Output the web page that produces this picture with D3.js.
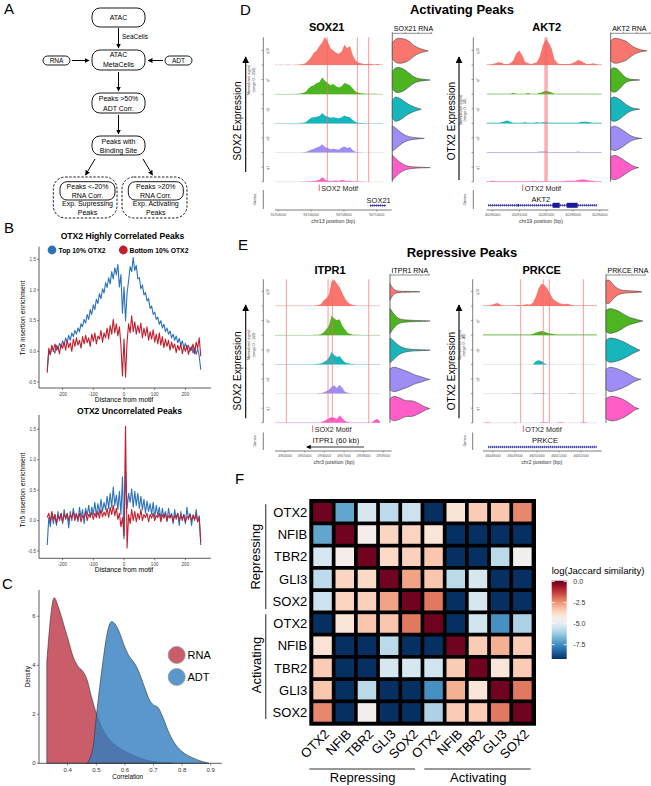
<!DOCTYPE html>
<html><head><meta charset="utf-8">
<script src="https://cdn.jsdelivr.net/npm/d3@7/dist/d3.min.js"></script>
<style>html,body{margin:0;padding:0;background:#fff}svg{display:block}</style>
</head><body>
<svg id="fig" width="651" height="786" font-family="'Liberation Sans', Arial, Helvetica, sans-serif"></svg>
<script>
// ---------------- DATA ----------------
// Panel B: Tn5 insertion profiles (distance from motif, step 5 bp)
const distance = d3.range(-250, 251, 5);
const hcTop = [-0.30,0.00,-0.06,0.08,0.02,-0.03,0.10,0.03,0.13,0.06,
 0.17,0.10,0.22,0.15,0.26,0.18,0.30,0.24,0.34,0.28,
 0.38,0.32,0.45,0.40,0.52,0.46,0.60,0.52,0.68,0.60,
 0.76,0.68,0.85,0.78,0.94,0.86,1.02,0.95,1.12,1.04,
 1.20,1.10,1.30,1.18,1.36,1.25,1.42,1.05,1.25,0.62,
 1.05,
 0.50,0.95,1.15,1.38,1.30,1.53,1.32,1.40,1.18,1.20,
 1.02,1.08,0.92,0.96,0.82,0.86,0.70,0.74,0.60,0.64,
 0.52,0.56,0.44,0.50,0.38,0.44,0.32,0.38,0.28,0.33,
 0.22,0.28,0.18,0.25,0.14,0.21,0.10,0.17,0.06,0.13,
 0.03,0.10,0.00,0.08,-0.03,0.06,-0.05,0.04,-0.08,-0.30];
const hcBottom = [-0.35,0.05,-0.05,0.10,0.00,0.12,0.02,0.08,-0.04,0.12,
 0.05,0.15,0.02,0.18,0.06,0.14,0.00,0.20,0.08,0.22,
 0.10,0.18,0.05,0.24,0.12,0.26,0.14,0.22,0.08,0.28,
 0.16,0.30,0.12,0.25,0.20,0.34,0.15,0.30,0.22,0.38,
 0.20,0.42,0.28,0.52,0.30,0.45,0.25,0.40,0.10,-0.40,
 0.20,
 -0.42,0.15,0.45,0.30,0.58,0.32,0.48,0.28,0.42,0.30,
 0.46,0.22,0.38,0.25,0.40,0.18,0.32,0.20,0.35,0.15,
 0.28,0.12,0.30,0.10,0.24,0.06,0.20,0.08,0.18,0.02,
 0.15,0.05,0.12,-0.02,0.10,0.02,0.12,-0.04,0.08,0.00,
 0.10,-0.05,0.06,0.02,0.12,-0.04,0.15,0.05,0.22,-0.08];
const ucTop = [-0.40,0.05,-0.10,0.12,-0.05,0.10,-0.08,0.15,0.00,0.12,
 -0.05,0.18,0.02,0.10,-0.12,0.15,0.00,0.20,0.05,0.12,
 -0.02,0.22,0.05,0.18,-0.05,0.20,0.08,0.25,0.05,0.22,
 0.10,0.30,0.08,0.28,0.12,0.35,0.15,0.30,0.18,0.40,
 0.20,0.45,0.22,0.55,0.25,0.42,0.18,0.48,0.10,0.72,
 -0.30,
 0.82,0.20,0.45,0.30,0.52,0.22,0.48,0.25,0.45,0.20,
 0.40,0.18,0.35,0.12,0.32,0.15,0.28,0.10,0.30,0.05,
 0.25,0.08,0.22,0.02,0.20,0.05,0.15,-0.02,0.20,0.05,
 0.12,-0.05,0.18,0.02,0.12,-0.08,0.15,0.00,0.10,-0.05,
 0.22,0.02,0.12,-0.08,0.10,0.00,0.18,-0.02,0.08,-0.40];
const ucBottom = [0.05,0.12,-0.02,0.15,0.02,0.10,-0.05,0.08,0.02,0.12,
 -0.02,0.10,0.04,0.12,0.00,0.08,0.05,0.14,0.00,0.10,
 0.02,0.12,-0.02,0.08,0.05,0.15,0.00,0.10,0.06,0.14,
 0.02,0.12,0.05,0.15,0.04,0.18,0.06,0.14,0.08,0.20,
 0.05,0.22,0.10,0.25,0.08,0.20,0.02,0.12,-0.10,0.05,
 -0.25,
 1.55,-0.45,0.10,-0.05,0.18,0.00,0.15,-0.02,0.12,0.02,
 0.18,0.00,0.10,0.05,0.12,-0.02,0.10,0.04,0.12,0.00,
 0.08,0.05,0.12,-0.02,0.10,0.04,0.12,0.00,0.08,0.04,
 0.10,-0.02,0.08,0.05,0.12,0.00,0.08,0.02,0.10,-0.02,
 0.06,0.04,0.10,0.00,0.08,0.02,0.10,-0.02,0.05,-0.35];
const profileXTicks = [-200,-100,0,100,200];
const profileYTicks = [-0.5,0,0.5,1,1.5];

// Panel C: densities of correlations
const rnaCorr = [0.327,0.353,0.367,0.385,0.402,0.419,0.437,0.454,0.468,0.483,0.500,0.524,0.547,0.582,0.628,0.674,0.720,0.767];
const rnaDens = [4.15,6.76,6.39,5.71,5.03,4.35,3.94,3.74,3.40,2.72,2.04,1.36,0.95,0.61,0.34,0.13,0.04,0];
const adtCorr = [0.468,0.480,0.489,0.500,0.512,0.524,0.538,0.553,0.564,0.582,0.599,0.616,0.634,0.651,0.668,0.686,0.700,0.715,0.732,0.755,0.778,0.801,0.836,0.871,0.894];
const adtDens = [0,0.27,0.68,1.90,3.13,4.22,5.30,5.78,5.71,5.31,4.76,4.35,4.08,3.67,3.13,2.58,2.38,2.29,1.90,1.22,0.75,0.47,0.23,0.07,0];
const corrTicks = [0.4,0.5,0.6,0.7,0.8,0.9];
const densTicks = [0,2,4,6];

// Panels D/E: coverage tracks (5 expression quantiles), 40 bins each
const quantiles = ["q10","q7","q5","q3","q1"];
const sox21Cov = [
 [2,1,2,1,3,2,1,2,3,4,8,15,40,70,110,130,170,200,250,210,150,130,110,100,120,180,150,170,90,40,20,15,10,8,12,6,4,8,3,2],
 [1,1,1,2,1,1,2,2,3,5,10,20,50,70,80,100,110,150,120,100,80,90,70,60,70,100,90,80,50,25,12,8,6,5,4,3,3,2,2,1],
 [1,1,1,1,1,1,1,2,2,3,5,10,30,50,55,60,65,90,70,60,50,55,50,45,55,70,60,55,30,12,6,4,3,2,2,2,1,1,2,1],
 [1,1,1,1,1,1,1,1,2,2,3,5,15,25,35,45,55,75,50,40,30,35,30,25,45,55,40,50,20,8,4,3,2,2,1,1,1,1,1,1],
 [1,1,1,1,1,1,1,1,1,1,2,2,4,6,8,12,18,40,20,10,8,10,12,8,15,12,8,10,6,4,3,2,2,1,1,1,1,1,1,1]];
const akt2Cov = [
 [1,1,2,3,5,4,2,2,3,8,20,26,18,6,3,2,3,5,15,35,46,40,30,10,3,2,2,2,2,3,6,9,7,4,2,2,3,2,1,1],
 [1,1,1,1,1,1,1,1,1,2,1,1,1,1,2,1,1,1,2,4,6,5,3,1,1,1,1,1,1,1,1,1,1,1,1,1,1,1,1,1],
 [1,1,1,1,1,2,4,5,3,1,1,1,1,2,1,1,1,2,1,2,2,1,1,1,1,1,1,1,1,1,1,1,3,3,3,2,1,1,1,1],
 [1,1,1,1,1,1,1,1,1,1,1,1,1,1,1,1,1,1,2,2,2,1,1,1,1,1,1,1,1,1,1,2,1,1,1,1,1,1,1,1],
 [1,1,2,1,1,1,1,1,1,1,1,1,1,1,1,1,2,1,1,1,1,1,1,1,1,1,1,2,2,2,2,3,4,4,3,2,2,1,1,1]];
const itpr1Cov = [
 [1,1,1,1,2,1,1,1,1,2,1,2,2,1,2,3,5,10,30,40,60,130,140,120,100,70,40,20,10,5,3,2,2,1,1,2,2,1,1,1],
 [1,1,1,1,1,1,1,1,1,1,1,1,1,1,1,2,3,5,15,30,50,105,90,80,85,50,30,12,6,3,2,2,1,1,1,1,1,1,1,1],
 [1,1,1,1,1,1,1,1,1,1,1,1,1,1,1,2,3,5,12,20,35,66,50,40,45,25,12,6,3,2,1,1,1,1,1,1,1,1,1,1],
 [1,1,1,1,1,1,1,1,1,1,1,1,1,1,1,1,2,3,6,12,20,35,45,30,48,30,10,4,2,1,1,1,1,1,1,1,1,1,1,1],
 [1,1,1,1,1,1,1,1,1,1,1,1,1,1,1,1,2,3,8,15,25,30,28,20,40,25,10,4,2,1,1,1,1,1,1,1,1,15,20,8]];
const prkceCov = [
 [1,1,1,2,4,5,2,1,1,1,1,1,2,1,2,3,2,5,15,30,38,36,30,20,12,8,5,4,3,4,2,1,1,1,1,1,1,1,1,1],
 [1,1,1,1,1,1,1,1,1,1,1,1,1,1,1,1,1,2,4,6,7,6,4,3,2,1,1,1,1,1,1,1,1,1,1,1,1,1,1,1],
 [0,0,0,0,0,0,0,0,0,0,0,0,0,0,0,0,0,0,5,7,6,2,0,0,0,0,0,0,0,0,0,0,0,0,0,0,0,0,0,0],
 [0,0,0,0,0,0,0,0,0,0,0,1,1,0,0,0,0,0,1,1,1,1,0,0,0,0,0,0,0,0,1,1,0,0,0,0,0,0,0,0],
 [0,1,1,0,0,0,0,0,0,0,0,1,0,0,0,0,0,0,0,0,1,1,1,0,0,0,1,1,0,0,0,0,0,0,1,1,0,0,0,0]];
// Violin densities (RNA expression per quantile) and max expression
const sox21Vln = [
 [0.6,0.95,1,1,0.95,0.85,0.7,0.45,0.3,0.2,0.12,0.05,0],
 [0.7,1,1,0.95,0.8,0.6,0.4,0.22,0.12,0.08,0.05,0.03,0],
 [0.7,1,0.95,0.85,0.7,0.55,0.4,0.3,0.2,0.12,0.06,0],
 [1,0.85,0.6,0.4,0.25,0.15,0.1,0.06,0.04,0.02,0],
 [1,0.7,0.4,0.22,0.12,0.07,0.05,0.03,0.02,0.01,0]];
const sox21VlnMax = [3.6,3.8,2.9,3.2,3.8];
const akt2Vln = [
 [0.8,1,1,0.95,0.85,0.8,0.6,0.4,0.25,0.15,0.08,0.04,0],
 [0.85,1,0.95,0.8,0.55,0.3,0.15,0.08,0.05,0.03,0.02,0],
 [0.85,1,0.95,0.85,0.7,0.5,0.35,0.2,0.12,0.06,0.03,0],
 [0.85,1,0.95,0.85,0.7,0.55,0.38,0.22,0.12,0.06,0.02,0],
 [0.85,1,0.95,0.85,0.7,0.55,0.4,0.25,0.12,0.05,0]];
const akt2VlnMax = [3.6,2.9,2.9,3.1,2.8];
const itpr1Vln = [
 [0.65,0.3,0.12,0.06,0.05,0.04,0.035,0.03,0.03,0.025,0.02,0.01,0],
 [1,0.6,0.3,0.15,0.1,0.08,0.06,0.05,0.04,0.03,0.02,0.01,0],
 [1,0.75,0.45,0.25,0.15,0.1,0.07,0.05,0.04,0.03,0.02,0],
 [0.85,1,0.95,0.85,0.75,0.65,0.55,0.4,0.3,0.25,0.15,0.05,0],
 [0.8,1,0.95,0.85,0.7,0.6,0.65,0.6,0.5,0.35,0.2,0.07,0]];
const itpr1VlnMax = [3.0,4.0,4.0,4.0,4.0];
const prkceVln = [
 [0.9,1,0.6,0.35,0.2,0.12,0.1,0.08,0.07,0.06,0.04,0],
 [0.85,1,0.98,0.9,0.8,0.65,0.5,0.35,0.25,0.2,0.12,0.05,0],
 [0.8,1,0.95,0.9,0.8,0.7,0.55,0.4,0.25,0.12,0],
 [0.8,1,0.95,0.9,0.8,0.7,0.6,0.45,0.3,0.15,0.05,0],
 [0.8,0.95,1,0.95,0.9,0.8,0.7,0.55,0.4,0.2,0.05,0]];
const prkceVlnMax = [3.6,3.7,3.4,3.5,3.3];
// genomic coordinates
const sox21Ticks = [94704000,94706000,94708000,94710000];
const akt2Ticks = [40280000,40281000,40282000,40283000,40284000];
const itpr1Ticks = [4904000,4905000,4906000,4907000,4908000,4909000];
const prkceTicks = [46048000,46049000,46050000,46051000,46052000];
const sox21Motifs = [94706990,94708820,94709510];
const akt2Motifs = [40281950,40281990,40282030];
const itpr1Motifs = [4904066,4906188,4906407,4908258];
const prkceMotifs = [46049259,46050286,46050559,46052105];

// Panel F: log(Jaccard similarity)
const tfs = ["OTX2","NFIB","TBR2","GLI3","SOX2"];
const peakGroups = ["Repressing","Activating"];
const jaccard = [
 [0,-7.0,-5.3,-5.75,-5.5,-9.2,-3.9,-3.4,-3.3,-2.3],
 [-7.0,0,-4.4,-3.6,-3.55,-4.0,-9.2,-9.2,-9.2,-9.2],
 [-5.3,-4.4,0,-3.7,-3.5,-3.3,-9.2,-9.2,-5.8,-4.5],
 [-5.75,-3.6,-3.7,0,-2.7,-3.3,-5.8,-5.3,-9.2,-9.2],
 [-5.5,-3.55,-3.5,-2.7,0,-2.1,-9.2,-5.3,-9.2,-9.2],
 [-9.2,-4.0,-3.3,-3.3,-2.1,0,-9.2,-5.4,-7.4,-6.0],
 [-3.9,-9.2,-9.2,-5.8,-9.2,-9.2,0,-3.4,-2.9,-3.4],
 [-3.4,-9.2,-9.2,-5.3,-5.3,-5.4,-3.4,0,-4.0,-3.4],
 [-3.3,-9.2,-5.8,-9.2,-9.2,-7.4,-2.9,-4.0,0,-2.1],
 [-2.3,-9.2,-4.5,-9.2,-9.2,-6.0,-3.4,-3.4,-2.1,0]];
const jaccardTicks = [0,-2.5,-5,-7.5];

// ---------------- DRAW ----------------
const fmt1 = v => d3.format(".1f")(v).replace("\u2212","-");
const svg = d3.select("#fig");
svg.append("rect").attr("width",651).attr("height",786).attr("fill","#fff");
const defs = svg.append("defs");
function marker(id, w){
  defs.append("marker").attr("id",id).attr("viewBox","0 0 10 10").attr("refX",9).attr("refY",5)
   .attr("markerWidth",w).attr("markerHeight",w).attr("markerUnits","userSpaceOnUse").attr("orient","auto")
   .append("path").attr("d","M0,0L10,5L0,10Z").attr("fill","#000");
}
marker("ah",5); marker("ahBig",7); marker("ahGene",4.5);

function txt(g,x,y,s,o={}){
  const t=g.append("text").attr("x",x).attr("y",y).text(s)
   .attr("font-size",o.size||7).attr("fill",o.fill||"#000").attr("text-anchor",o.anchor||"start");
  if(o.weight) t.attr("font-weight",o.weight);
  if(o.dy) t.attr("dy",o.dy);
  if(o.rotate!=null) t.attr("transform",`rotate(${o.rotate},${x},${y})`);
  return t;
}
function line(g,x1,y1,x2,y2,stroke="#000",w=1){
  return g.append("line").attr("x1",x1).attr("y1",y1).attr("x2",x2).attr("y2",y2).attr("stroke",stroke).attr("stroke-width",w);
}
// panel letters
[["A",4,14],["B",4,233],["C",2,589],["D",240,15],["E",238,250],["F",235,484]].forEach(([l,x,y])=>txt(svg,x,y,l,{size:15}));

// ---------- Panel A ----------
const A = svg.append("g");
function box(x,y,w,h,r,dash){
  A.append("rect").attr("x",x).attr("y",y).attr("width",w).attr("height",h).attr("rx",r).attr("ry",r)
   .attr("fill","none").attr("stroke","#000").attr("stroke-width",0.9).attr("stroke-dasharray",dash?"2.4,1.6":null);
}
function arr(x1,y1,x2,y2){ line(A,x1,y1,x2,y2,"#000",1).attr("marker-end","url(#ah)"); }
box(92,8,53,19,8); txt(A,118.5,20,"ATAC",{size:7,anchor:"middle"});
arr(118.5,28,118.5,48); txt(A,122,38.5,"SeaCells",{size:6.5});
box(92,50,53,20,8); txt(A,118.5,57,"ATAC",{size:7,anchor:"middle"}); txt(A,118.5,66.5,"MetaCells",{size:7,anchor:"middle"});
box(43,56,27,9,4.5); txt(A,56.5,63,"RNA",{size:6.5,anchor:"middle"});
box(165,56,27,9,4.5); txt(A,178.5,63,"ADT",{size:6.5,anchor:"middle"});
arr(72,60.5,89,60.5); arr(163,60.5,148,60.5);
arr(118.5,72,118.5,91);
box(92,93,53,20,8); txt(A,118.5,100.5,"Peaks >50%",{size:7,anchor:"middle"}); txt(A,118.5,110.5,"ADT Corr.",{size:7,anchor:"middle"});
arr(118.5,115,118.5,134);
box(92,136,53,19,8); txt(A,118.5,144,"Peaks with",{size:7,anchor:"middle"}); txt(A,118.5,153,"Binding Site",{size:7,anchor:"middle"});
arr(95,159,85.5,175); arr(143,159,152.5,175);
box(53.3,177,63.7,41,12,true); box(122,177,65,41,12,true);
box(60,181.7,55,18.3,7); box(128.3,181.7,55,18.3,7);
txt(A,87.5,188.5,"Peaks <-20%",{size:7,anchor:"middle"}); txt(A,87.5,197.5,"RNA Corr.",{size:7,anchor:"middle"});
txt(A,87.5,205.5,"Exp. Supressing",{size:7,anchor:"middle"}); txt(A,87.5,214.5,"Peaks",{size:7,anchor:"middle"});
txt(A,155.8,188.5,"Peaks >20%",{size:7,anchor:"middle"}); txt(A,155.8,197.5,"RNA Corr.",{size:7,anchor:"middle"});
txt(A,155.8,205.5,"Exp. Activating",{size:7,anchor:"middle"}); txt(A,155.8,214.5,"Peaks",{size:7,anchor:"middle"});

// ---------- Panel B ----------
const blueC = "#2B72BA", redC = "#C21F2E";
function profile(top, bot, zeroY, axTop, axBot, title, titleX, titleY, ylabY, xlabY){
  const g = svg.append("g");
  const x = d3.scaleLinear().domain([-250,250]).range([47.25,200.75]);
  const y = d3.scaleLinear().domain([-0.5,1.5]).range([zeroY.m05, zeroY.p15]);
  line(g,39,axTop,39,axBot,"#333",0.8); line(g,39,axBot,211,axBot,"#333",0.8);
  profileYTicks.forEach(t=>{ line(g,37,y(t),39,y(t),"#333",0.6); txt(g,36,y(t),fmt1(t),{size:4.6,anchor:"end",dy:"0.35em",fill:"#444"}); });
  profileXTicks.forEach(t=>{ line(g,x(t),axBot,x(t),axBot+2,"#333",0.6); txt(g,x(t),axBot+7.5,String(t),{size:4.6,anchor:"middle",fill:"#444"}); });
  const ln = d3.line().x((d,i)=>x(distance[i])).y(d=>y(d));
  g.append("path").attr("d",ln(top)).attr("fill","none").attr("stroke",blueC).attr("stroke-width",1.1).attr("stroke-linejoin","round");
  g.append("path").attr("d",ln(bot)).attr("fill","none").attr("stroke",redC).attr("stroke-width",1.1).attr("stroke-linejoin","round");
  txt(g,titleX,titleY,title,{size:8.6,weight:"bold",anchor:"middle"});
  txt(g,25,ylabY,"Tn5 insertion enrichment",{size:6.8,anchor:"middle",rotate:-90});
  txt(g,124,xlabY,"Distance from motif",{size:6.8,anchor:"middle"});
  return g;
}
const gB1 = profile(hcTop,hcBottom,{m05:382,p15:259.3},246.7,388,"OTX2 Highly Correlated Peaks",122.5,238.5,318,401.5);
profile(ucTop,ucBottom,{m05:551,p15:429.3},415,558.3,"OTX2 Uncorrelated Peaks",129.5,413.5,490,572);
gB1.append("circle").attr("cx",52).attr("cy",250).attr("r",4.4).attr("fill",blueC);
txt(gB1,58.5,252.5,"Top 10% OTX2",{size:6.8,weight:"bold"});
gB1.append("circle").attr("cx",123.3).attr("cy",250).attr("r",4.4).attr("fill",redC);
txt(gB1,129.5,252.5,"Bottom 10% OTX2",{size:6.8,weight:"bold"});

// ---------- Panel C ----------
{
  const g = svg.append("g");
  const x = d3.scaleLinear().domain([0.4,0.9]).range([67.7,210.7]);
  const y = d3.scaleLinear().domain([0,6]).range([763.3,616.3]);
  const ar = (xs)=>d3.area().x((d,i)=>x(xs[i])).y0(y(0)).y1(d=>y(d)).curve(d3.curveMonotoneX);
  g.append("path").attr("d",ar(rnaCorr)(rnaDens)).attr("fill","#B2182B").attr("fill-opacity",0.7).attr("stroke","#333").attr("stroke-width",0.6);
  g.append("path").attr("d",ar(adtCorr)(adtDens)).attr("fill","#2F7DC0").attr("fill-opacity",0.8).attr("stroke","#333").attr("stroke-width",0.6);
  line(g,39,590,39,763.3,"#333",0.8); line(g,39,763.3,221.7,763.3,"#333",0.8);
  densTicks.forEach(t=>{ line(g,37,y(t),39,y(t),"#333",0.6); txt(g,35.5,y(t),String(t),{size:6,anchor:"end",dy:"0.35em",fill:"#333"}); });
  corrTicks.forEach(t=>{ line(g,x(t),763.3,x(t),765.5,"#333",0.6); txt(g,x(t),771.5,fmt1(t),{size:6,anchor:"middle",fill:"#333"}); });
  txt(g,30.5,676.7,"Density",{size:6.3,anchor:"middle",rotate:-90});
  txt(g,127.7,778.5,"Correlation",{size:6.3,anchor:"middle"});
  g.append("circle").attr("cx",176.7).attr("cy",655).attr("r",8.5).attr("fill","#B2182B").attr("fill-opacity",0.7).attr("stroke","#999").attr("stroke-width",0.8);
  g.append("circle").attr("cx",176.7).attr("cy",677).attr("r",8.5).attr("fill","#2F7DC0").attr("fill-opacity",0.8).attr("stroke","#999").attr("stroke-width",0.8);
  txt(g,187.5,659,"RNA",{size:11}); txt(g,187.5,681,"ADT",{size:11});
}

// ---------- Panels D / E ----------
const qColors = ["#F8766D","#4DB520","#17B6BC","#9E8DF5","#FF5DC8"];
txt(svg,462,14,"Activating Peaks",{size:13,weight:"bold",anchor:"middle"});
txt(svg,462,257,"Repressive Peaks",{size:13,weight:"bold",anchor:"middle"});
function genePanel(c){
  const g = svg.append("g");
  txt(g,c.titleX,c.titleY,c.title,{size:11,weight:"bold",anchor:"middle"});
  line(g,c.arrowX,c.arrowBot,c.arrowX,c.arrowTop,"#000",1.1).attr("marker-end","url(#ahBig)");
  txt(g,c.exprX,c.exprY,c.exprLabel,{size:10,anchor:"middle",rotate:-90});
  txt(g,c.normX,c.normY,"Normalized signal",{size:3.8,anchor:"middle",rotate:-90,fill:"#333"});
  txt(g,c.normX+4.3,c.normY,c.rangeLabel,{size:3.8,anchor:"middle",rotate:-90,fill:"#333"});
  const x = d3.scaleLinear().domain(c.gDomain).range(c.gRange);
  const step = 29.2, rowH = 28;
  const bases = quantiles.map((q,i)=>c.base0+i*step);
  const bottom = bases[4];
  const yv = d3.scaleLinear().domain([0,c.yMax]).range([0,rowH]);
  line(g,c.axisX,c.axisTop,c.axisX,bottom,"#444",0.7);
  bases.forEach(b=>{ [b,b-step/2].forEach(t=>line(g,c.axisX-1.8,t,c.axisX,t,"#444",0.5)); });
  c.cov.forEach((arr,qi)=>{
    const b = bases[qi], nb = arr.length;
    const gx = i => c.covStart + i*(c.covEnd-c.covStart)/(nb-1);
    line(g,x(c.covStart),b,x(c.covEnd),b,"#d8d8d8",0.6);
    g.append("path").attr("d",d3.area().x((d,i)=>x(gx(i))).y0(b).y1(d=>b-yv(d))(arr)).attr("fill",qColors[qi]);
    txt(g,c.axisX+6,b-14,quantiles[qi],{size:3.6,anchor:"middle",rotate:-90,fill:"#555"});
  });
  c.motifs.forEach(m=>line(g,x(m),c.axisTop,x(m),bottom,"#F26A6A",0.9).attr("stroke-opacity",0.75));
  line(g,c.motifLegX,c.motifLegY-6,c.motifLegX,c.motifLegY+0.5,"#F26A6A",1);
  txt(g,c.motifLegX+2,c.motifLegY,c.motifLabel,{size:7.2,fill:"#222"});
  // genes track
  line(g,c.axisX,c.genesTop,c.axisX,c.genesBot,"#444",0.7);
  txt(g,c.axisX-7,c.genesLabelY,"Genes",{size:3.8,anchor:"middle",rotate:-90,fill:"#333"});
  const gn = c.gene;
  txt(g,gn.nameX,gn.nameY,gn.name,{size:7.5,anchor:"middle",fill:"#111"});
  if(gn.type==="arrow"){
    line(g,x(gn.start),gn.lineY,x(gn.end),gn.lineY,"#000",0.8).attr("marker-end","url(#ahGene)");
  } else {
    line(g,x(gn.start),gn.lineY,x(gn.end),gn.lineY,"#1C1C9A",0.8);
    line(g,x(gn.start),gn.lineY,x(gn.end),gn.lineY,"#1C1C9A",2.4).attr("stroke-dasharray","0.6,1.4");
    (gn.exons||[]).forEach(e=>g.append("rect").attr("x",x(e[0])).attr("y",gn.lineY-e[2]/2).attr("width",Math.max(1.2,x(e[1])-x(e[0]))).attr("height",e[2]).attr("fill","#1C1C9A"));
  }
  // x axis
  line(g,c.gRange[0],c.axisY,c.gRange[1],c.axisY,"#444",0.7);
  c.ticks.forEach(t=>{ line(g,x(t),c.axisY,x(t),c.axisY+1.5,"#444",0.5); txt(g,x(t),c.tickY,String(t),{size:3.5,anchor:"middle",fill:"#555"}); });
  txt(g,c.chrX,c.chrY,c.chrLabel,{size:5.3,anchor:"middle",fill:"#333"});
  // violins
  txt(g,c.vlnX+1.5,c.vlnHeaderY,c.vlnHeader,{size:7});
  line(g,c.vlnX,c.vlnLineY,c.vlnX+40,c.vlnLineY,"#444",0.6);
  [0,13,26,39].forEach(d=>line(g,c.vlnX+d,c.vlnLineY,c.vlnX+d,c.vlnLineY-1.5,"#444",0.5));
  line(g,c.vlnX,c.vlnLineY,c.vlnX,bottom,"#444",0.8);
  const vx = d3.scaleLinear().domain([0,4]).range([c.vlnX,c.vlnX+40]);
  const vh = d3.scaleLinear().domain([0,1]).range([0,12.5]);
  c.vln.forEach((dens,qi)=>{
    const cy = bases[qi]-14.2, mx = c.vlnMax[qi], n = dens.length;
    const ar = d3.area().x((d,i)=>vx(i*mx/(n-1))).y0(d=>cy+vh(d)).y1(d=>cy-vh(d)).curve(d3.curveBasis);
    g.append("path").attr("d",ar(dens)).attr("fill",qColors[qi]).attr("stroke","#444").attr("stroke-width",0.6);
  });
}
genePanel({title:"SOX21",titleX:326.7,titleY:31,exprLabel:"SOX2 Expression",exprX:241,exprY:121,arrowX:245.7,arrowTop:57,arrowBot:172,
 normX:250.3,normY:80,rangeLabel:"(range 0 - 250)",axisX:263.3,axisTop:37.3,base0:65,gDomain:[94703799,94710915],gRange:[275,391.7],
 covStart:94703799,covEnd:94710402,cov:sox21Cov,yMax:250,motifs:sox21Motifs,motifLabel:"SOX2 Motif",motifLegX:319.3,motifLegY:190.5,
 genesTop:190,genesBot:209,genesLabelY:199.5,axisY:210,ticks:sox21Ticks,tickY:216.3,chrLabel:"chr13 position (bp)",chrX:333.3,chrY:223,
 gene:{name:"SOX21",nameX:378.7,nameY:202.5,lineY:205.5,start:94709590,end:94710560,type:"dotted"},
 vlnX:392.3,vlnHeader:"SOX21 RNA",vlnHeaderY:30.5,vlnLineY:33.3,vln:sox21Vln,vlnMax:sox21VlnMax});
genePanel({title:"AKT2",titleX:546.7,titleY:31,exprLabel:"OTX2 Expression",exprX:454.5,exprY:121,arrowX:459,arrowTop:57,arrowBot:180,
 normX:461.5,normY:110,rangeLabel:"(range 0 - 50)",axisX:473.3,axisTop:37.3,base0:65,gDomain:[40279776,40284313],gRange:[486.7,608.3],
 covStart:40279776,covEnd:40284067,cov:akt2Cov,yMax:50,motifs:akt2Motifs,motifLabel:"OTX2 Motif",motifLegX:522.7,motifLegY:190.5,
 genesTop:190,genesBot:209,genesLabelY:199.5,axisY:210,ticks:akt2Ticks,tickY:216.3,chrLabel:"chr19 position (bp)",chrX:541,chrY:223,
 gene:{name:"AKT2",nameX:540.8,nameY:202,lineY:205.3,start:40279825,end:40283890,type:"dotted",exons:[[40280930,40280960,3],[40282235,40282500,5],[40282760,40283170,5]]},
 vlnX:610.7,vlnHeader:"AKT2 RNA",vlnHeaderY:30.5,vlnLineY:33.3,vln:akt2Vln,vlnMax:akt2VlnMax});
genePanel({title:"ITPR1",titleX:330,titleY:273.5,exprLabel:"SOX2 Expression",exprX:241,exprY:371,arrowX:245.7,arrowTop:305,arrowBot:418.3,
 normX:250.3,normY:345,rangeLabel:"(range 0 - 150)",axisX:263.3,axisTop:279.3,base0:306,gDomain:[4903491,4909425],gRange:[275,391.7],
 covStart:4903491,covEnd:4908832,cov:itpr1Cov,yMax:150,motifs:itpr1Motifs,motifLabel:"SOX2 Motif",motifLegX:312.7,motifLegY:431.5,
 genesTop:432.5,genesBot:450,genesLabelY:441,axisY:451,ticks:itpr1Ticks,tickY:457.3,chrLabel:"chr3 position (bp)",chrX:334,chrY:463.5,
 gene:{name:"ITPR1 (60 kb)",nameX:335.8,nameY:443.3,lineY:447,start:4908018,end:4905103,type:"arrow"},
 vlnX:390,vlnHeader:"ITPR1 RNA",vlnHeaderY:272.5,vlnLineY:275,vln:itpr1Vln,vlnMax:itpr1VlnMax});
genePanel({title:"PRKCE",titleX:541.7,titleY:273.5,exprLabel:"OTX2 Expression",exprX:454.5,exprY:371,arrowX:459,arrowTop:305,arrowBot:418.3,
 normX:460.5,normY:345,rangeLabel:"(range 0 - 48)",axisX:472.7,axisTop:279.3,base0:306,gDomain:[46047545,46052940],gRange:[483,601.7],
 covStart:46047545,covEnd:46052727,cov:prkceCov,yMax:48,motifs:prkceMotifs,motifLabel:"OTX2 Motif",motifLegX:523.3,motifLegY:431.5,
 genesTop:432.5,genesBot:450,genesLabelY:441,axisY:451,ticks:prkceTicks,tickY:457.3,chrLabel:"chr2 position (bp)",chrX:541.7,chrY:463.5,
 gene:{name:"PRKCE",nameX:545,nameY:443.3,lineY:447,start:46047786,end:46052714,type:"dotted"},
 vlnX:606,vlnHeader:"PRKCE RNA",vlnHeaderY:272.5,vlnLineY:275,vln:prkceVln,vlnMax:prkceVlnMax});

// ---------- Panel F ----------
{
  const g = svg.append("g");
  const labels = [];
  peakGroups.forEach(gr=>tfs.forEach(tf=>labels.push(gr+"|"+tf)));
  const xb = d3.scaleBand().domain(labels).range([311.45,533.45]).paddingInner(0.1667).paddingOuter(0.0833);
  const yb = d3.scaleBand().domain(labels).range([501.15,723.55]).paddingInner(0.1667).paddingOuter(0.0833);
  const cmax = 0.1, cmin = -9.2;
  const col = v => d3.interpolateRdBu((cmax - v)/(cmax - cmin));
  g.append("rect").attr("x",309.3).attr("y",499).attr("width",226.7).attr("height",226.7).attr("fill","#000");
  jaccard.forEach((row,ri)=>row.forEach((v,ci)=>{
    g.append("rect").attr("x",xb(labels[ci])).attr("y",yb(labels[ri])).attr("width",xb.bandwidth()).attr("height",yb.bandwidth()).attr("fill",col(v));
  }));
  labels.forEach(l=>{
    const tf = l.split("|")[1];
    txt(g,307.3,yb(l)+yb.bandwidth()/2,tf,{size:13,anchor:"end",dy:"0.36em"});
    const cx = xb(l)+xb.bandwidth()/2+7.5;
    txt(g,cx,735,tf,{size:13,anchor:"end",rotate:-45});
  });
  // group brackets
  line(g,265.7,504.3,265.7,609,"#555",1.3); line(g,265.7,614.3,265.7,719,"#555",1.3);
  txt(g,260.5,556.7,peakGroups[0],{size:13,anchor:"middle",rotate:-90});
  txt(g,260.5,665,peakGroups[1],{size:13,anchor:"middle",rotate:-90});
  line(g,309.3,769,415,769,"#333",1.2); line(g,424.3,769,530.7,769,"#333",1.2);
  txt(g,362.7,782.3,peakGroups[0],{size:13,anchor:"middle"});
  txt(g,478.3,782.3,peakGroups[1],{size:13,anchor:"middle"});
  // legend
  txt(g,551.7,574,"log(Jaccard similarity)",{size:9.6});
  const cy = d3.scaleLinear().domain([cmax,cmin]).range([580.7,659]);
  const grad = defs.append("linearGradient").attr("id","jg").attr("x1",0).attr("x2",0).attr("y1",0).attr("y2",1);
  d3.range(0,1.0001,0.05).forEach(t=>grad.append("stop").attr("offset",t).attr("stop-color",d3.interpolateRdBu(t)));
  g.append("rect").attr("x",551.7).attr("y",580.7).attr("width",15).attr("height",78.3).attr("fill","url(#jg)");
  jaccardTicks.forEach(t=>{
    line(g,551.7,cy(t),554.7,cy(t),"#fff",0.8); line(g,563.7,cy(t),566.7,cy(t),"#fff",0.8);
    txt(g,573.3,cy(t),fmt1(t),{size:7,dy:"0.35em",fill:"#333"});
  });
}
</script></body></html>
